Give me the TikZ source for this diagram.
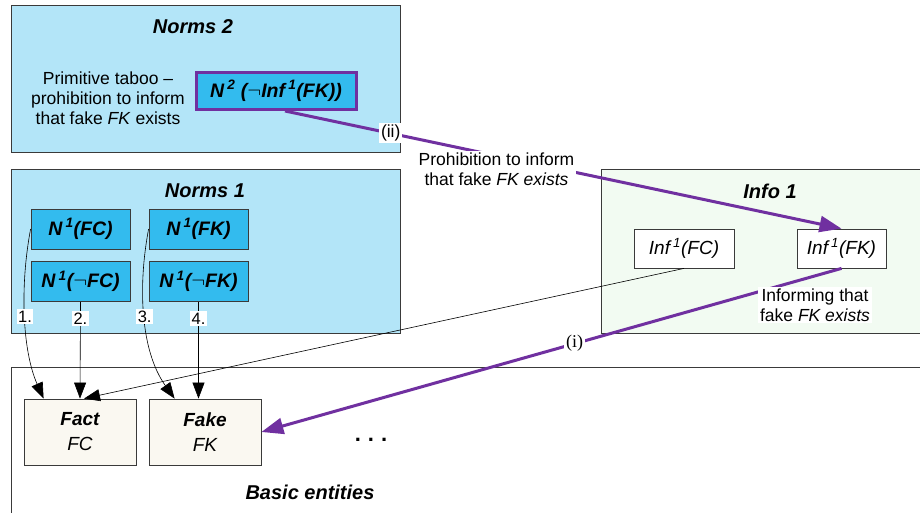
\documentclass[tikz,border=0pt]{standalone}
\usepackage{fontspec}
\setmainfont{Liberation Sans}
\newfontfamily\romanlbl{Liberation Serif}
\usetikzlibrary{arrows.meta}

\definecolor{normbg}{HTML}{B3E5F8}
\definecolor{normfill}{HTML}{33BBEE}
\definecolor{infobg}{HTML}{F2FBF2}
\definecolor{entfill}{HTML}{FAF8F1}
\definecolor{taboo}{HTML}{7030A0}
\definecolor{edge}{HTML}{3A3A3A}

\begin{document}
\begin{tikzpicture}
  [x=1pt,y=-1pt,
   every node/.style={inner sep=1pt,font=\fontsize{17.5}{20}\selectfont},
   area/.style={draw=edge,line width=1pt},
   title/.style={font=\fontsize{20}{23}\selectfont\bfseries\itshape},
   normbox/.style={draw=edge,line width=0.8pt,fill=normfill,minimum width=99pt,minimum height=40pt,
     font=\fontsize{19.5}{22}\selectfont\bfseries\itshape},
   infobox/.style={draw=edge,line width=0.8pt,fill=white,minimum height=39pt,
     font=\fontsize{19}{22}\selectfont\itshape},
   entbox/.style={draw=edge,line width=0.8pt,fill=entfill,minimum width=112pt,minimum height=66pt,
     align=center,font=\fontsize{19}{25}\selectfont\itshape},
   num/.style={fill=white,inner sep=1.5pt,font=\fontsize{16.5}{18}\selectfont},
   link/.style={draw=black,line width=0.6pt,-{Triangle[length=16pt,width=12pt]}},
   tabooline/.style={draw=taboo,line width=3pt,-{Triangle[length=22pt,width=16pt]}},
   tlabel/.style={fill=white,inner sep=2pt,align=center}]

  \useasboundingbox (0,0) rectangle (920,513);

  % areas
  \fill[white] (0,0) rectangle (920,513);
  \draw[area,fill=normbg] (11,6) rectangle (400,153);
  \draw[area,fill=normbg] (11,170) rectangle (400,333);
  \draw[area,fill=infobg] (601,170) rectangle (930,333);
  \draw[area] (930,367) -- (11,367) -- (11,520);

  \node[title] (norms2) at (193,27) {Norms 2};
  \node[title] (norms1) at (205,191) {Norms 1};
  \node[title] (info1) at (770,191) {Info 1};
  \node[title] (basic) at (310,492) {Basic entities};

  \node[align=center] (taboo) at (108,98) {Primitive taboo --\\prohibition to inform\\that fake \textit{FK} exists};
  \node[draw=taboo,line width=3pt,fill=normfill,minimum width=160pt,minimum height=37pt,
    font=\fontsize{19.5}{22}\selectfont\bfseries\itshape] (n2) at (276,91)
    {N\,\textsuperscript{2} ($\neg$Inf\,\textsuperscript{1}(FK))};

  \node[normbox] (n1fc) at (80.5,229) {N\,\textsuperscript{1}(FC)};
  \node[normbox] (n1fk) at (198.5,229) {N\,\textsuperscript{1}(FK)};
  \node[normbox] (n1nfc) at (80.5,281.5) {N\,\textsuperscript{1}($\neg$FC)};
  \node[normbox] (n1nfk) at (198.5,281.5) {N\,\textsuperscript{1}($\neg$FK)};

  \node[infobox,minimum width=100pt] (inffc) at (684,248.5) {Inf\,\textsuperscript{1}(FC)};
  \node[infobox,minimum width=89pt] (inffk) at (841.5,248.5) {Inf\,\textsuperscript{1}(FK)};

  \node[entbox] (fact) at (80,432) {\textbf{Fact}\\FC};
  \node[entbox] (fake) at (205,432) {\textbf{Fake}\\FK};
  \node[font=\fontsize{22}{24}\selectfont\bfseries] (dots) at (371,440) {.\hspace{7pt}.\hspace{7pt}.};

  % norms to entities
  \draw[link] (n1fc.west) .. controls (20,285) and (22,350) .. ([xshift=20pt]fact.north west)
    node[num,pos=0.5] {1.};
  \draw[link] (n1nfc.south) -- (fact.north) node[num,pos=0.17] {2.};
  \draw[link] (n1fk.west) .. controls (138,285) and (140,350) .. ([xshift=26pt]fake.north west)
    node[num,pos=0.5] {3.};
  \draw[link] (n1nfk.south) -- (n1nfk.south |- fake.north) node[num,pos=0.17] {4.};
  \draw[link] (inffc.south) -- ([xshift=4pt]fact.north);

  % taboo and informing
  \draw[tabooline] ([xshift=9pt]n2.south) -- (inffk.north)
    node[tlabel,pos=0.19] {(ii)}
    node[tlabel,pos=0.38,yshift=-14pt] {Prohibition to inform\\that fake \textit{FK exists}};
  \draw[tabooline] (inffk.south) -- (fake.east)
    node[tlabel,pos=0.46,font=\romanlbl\fontsize{18}{20}\selectfont] {(i)};
  \node[tlabel] (inflbl) at (815,305) {Informing that\\fake \textit{FK exists}};

\end{tikzpicture}
\end{document}
